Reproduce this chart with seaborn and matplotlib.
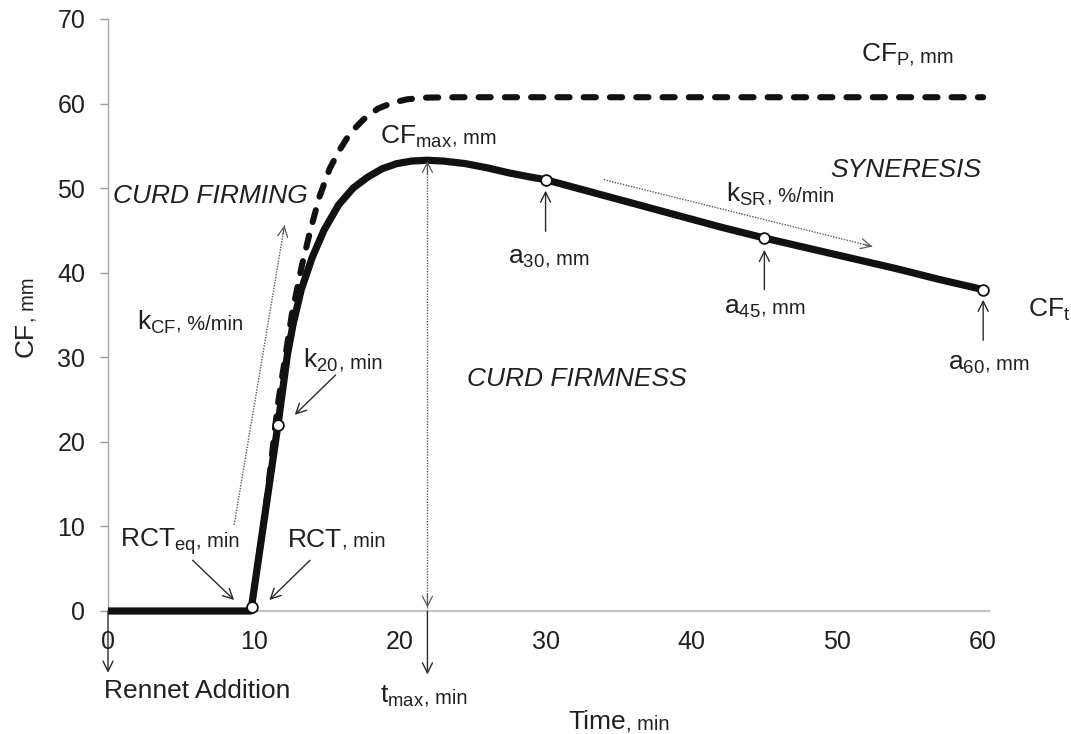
import matplotlib
matplotlib.use("Agg")
import matplotlib.pyplot as plt
import matplotlib.transforms as mtransforms
import seaborn as sns

# ---------------- data ----------------
cf_time = [0, 9.8, 11.65, 12.3, 12.7, 13.25, 14.0, 14.8, 15.8, 16.8, 17.8, 18.8,
           19.8, 20.8, 21.9, 23.0, 24.5, 26.0, 27.5, 29.0, 30, 33, 36, 39, 42, 45,
           48, 51, 54, 57, 60]
cf_value = [0, 0, 22.0, 30.3, 34.0, 38.0, 41.8, 45.0, 48.0, 50.0, 51.3, 52.3,
            52.9, 53.2, 53.3, 53.2, 52.9, 52.4, 51.8, 51.3, 51.0, 49.6, 48.2, 46.8,
            45.4, 44.1, 42.9, 41.7, 40.5, 39.2, 38.0]

cfp_time = [9.8, 10.8, 11.65, 12.6, 13.3, 13.9, 14.5, 15.2, 15.8, 16.6, 17.5, 18.5,
            19.5, 20.5, 21.7, 24, 60]
cfp_value = [0, 12.0, 24.5, 35.0, 40.9, 45.2, 49.0, 52.3, 54.3, 56.5, 58.1, 59.4,
             60.1, 60.5, 60.7, 60.75, 60.75]

marker_time = [9.85, 11.65, 30, 45, 60]
marker_value = [0.5, 22.0, 51.0, 44.1, 38.0]

x_ticks = [0, 10, 20, 30, 40, 50, 60]
y_ticks = [0, 10, 20, 30, 40, 50, 60, 70]

# ---------------- style ----------------
sns.set_theme(style="white")
plt.rcParams["font.family"] = ["Liberation Sans", "DejaVu Sans"]
plt.rcParams["mathtext.fontset"] = "custom"
plt.rcParams["mathtext.rm"] = "Liberation Sans"
plt.rcParams["mathtext.it"] = "Liberation Sans:italic"

TEXT = "#231f20"
LINE = "#111111"
ARROW = "#2a2a2a"
DOT = "#5a5a5a"
BIG = 19
SMALL = 14.5

fig = plt.figure(figsize=(10.71, 7.34), dpi=100)
ax = fig.add_axes([108 / 1071, 123 / 734, (989 - 108) / 1071, (611 - 19) / 734])
renderer = fig.canvas.get_renderer()

# ---------------- curves ----------------
sns.lineplot(x=cfp_time, y=cfp_value, ax=ax, color=LINE, lw=4.4,
             estimator=None, sort=False)
dashed = ax.lines[-1]
dashed.set_linestyle((0, (2.0, 2.3)))
dashed.set_dash_capstyle("round")
dashed.set_dash_joinstyle("round")
dashed.set_clip_on(False)

sns.lineplot(x=cf_time, y=cf_value, ax=ax, color=LINE, lw=5.2,
             estimator=None, sort=False)
solid = ax.lines[-1]
solid.set_clip_on(False)
solid.set_solid_joinstyle("round")
solid.set_solid_capstyle("butt")
solid.set_zorder(3)

sns.scatterplot(x=marker_time, y=marker_value, ax=ax, s=60, color="white",
                edgecolor=LINE, linewidth=1.3, zorder=5, clip_on=False)

# ---------------- axes ----------------
ax.set_xlim(0, 60.4)
ax.set_ylim(0, 70)
ax.set_xticks(x_ticks)
ax.set_yticks(y_ticks)
ax.set_xticklabels([str(v) for v in x_ticks])
ax.set_yticklabels([str(v) for v in y_ticks])
ax.tick_params(axis="x", length=0, pad=13.5, labelsize=18, labelcolor=TEXT)
ax.tick_params(axis="y", length=5.8, width=1.0, color="#9a9a9a", pad=10.5,
               labelsize=18, labelcolor=TEXT, left=True)
sns.despine(ax=ax)
ax.spines["left"].set_color("#a6a6a6")
ax.spines["left"].set_linewidth(1.0)
ax.spines["bottom"].set_color("#c4c4c4")
ax.spines["bottom"].set_linewidth(1.6)
ax.set_xlabel("")
ax.set_ylabel("")
ax.grid(False)


# ---------------- rich text helper ----------------
def rich(x, y, pieces, ha="left", rotation=0, style="normal"):
    arts, widths = [], []
    for s, size in pieces:
        t = ax.text(x, y, s, fontsize=size, rotation=rotation, rotation_mode="anchor",
                    ha="left", va="baseline", color=TEXT, style=style, clip_on=False)
        bb = t.get_window_extent(renderer=renderer)
        widths.append(bb.height if rotation == 90 else bb.width)
        arts.append(t)
    total = sum(widths)
    off = {"left": 0.0, "center": -total / 2, "right": -total}[ha]
    for t, w in zip(arts, widths):
        dx, dy = (0, off) if rotation == 90 else (off, 0)
        t.set_transform(mtransforms.offset_copy(ax.transData, fig=fig, x=dx, y=dy, units="dots"))
        off += w


def arrow(tail, tip, color=ARROW, lw=1.0):
    ax.annotate("", xy=tip, xytext=tail, annotation_clip=False,
                arrowprops=dict(arrowstyle="->,head_length=0.6,head_width=0.3",
                                color=color, lw=lw, shrinkA=0, shrinkB=0))


def dotted_arrow(tail, tip, both=False):
    ax.plot([tail[0], tip[0]], [tail[1], tip[1]], color=DOT, lw=1.0,
            linestyle=(0, (1, 1)), clip_on=False, zorder=2)
    for a, b in ([(tail, tip), (tip, tail)] if both else [(tail, tip)]):
        fx = a[0] + (b[0] - a[0]) * 0.97
        fy = a[1] + (b[1] - a[1]) * 0.97
        ax.annotate("", xy=b, xytext=(fx, fy), annotation_clip=False,
                    arrowprops=dict(arrowstyle="->,head_length=0.6,head_width=0.3",
                                    color=DOT, lw=0.9, shrinkA=0, shrinkB=0))


# ---------------- annotations ----------------
rich(51.6, 64.9, [(r"CF$_{\mathregular{P}}$", BIG), (", mm", SMALL)])
rich(18.65, 55.3, [(r"CF$_{\mathregular{max}}$", BIG), (", mm", SMALL)])
rich(59.9, 51.3, [("SYNERESIS", BIG)], ha="right", style="italic")
rich(0.35, 48.2, [("CURD FIRMING", BIG)], style="italic")
rich(42.4, 48.4, [(r"k$_{\mathregular{SR}}$", BIG), (", %/min", SMALL)])
rich(1.97, 33.3, [(r"k$_{\mathregular{CF}}$", BIG), (", %/min", SMALL)])
rich(13.4, 28.7, [(r"k$_{\mathregular{20}}$", BIG), (", min", SMALL)])
rich(24.6, 26.6, [("CURD FIRMNESS", BIG)], style="italic")
rich(30.2, 41.0, [(r"a$_{\mathregular{30}}$", BIG), (", mm", SMALL)], ha="center")
rich(45.05, 35.2, [(r"a$_{\mathregular{45}}$", BIG), (", mm", SMALL)], ha="center")
rich(60.4, 28.5, [(r"a$_{\mathregular{60}}$", BIG), (", mm", SMALL)], ha="center")
rich(63.1, 34.8, [(r"CF$_{\mathregular{t}}$", BIG)])
rich(0.82, 7.6, [(r"RCT$_{\mathregular{eq}}$", BIG), (", min", SMALL)])
rich(12.35, 7.6, [("RCT", BIG), (", min", SMALL)])
rich(-0.27, -10.3, [("Rennet Addition", BIG)])
rich(18.65, -10.9, [(r"t$_{\mathregular{max}}$", BIG), (", min", SMALL)])
rich(31.55, -14.0, [("Time", BIG), (", min", SMALL)])
rich(-5.14, 30.0, [("CF", BIG), (", mm", SMALL)], rotation=90)

arrow((5.8, 6.0), (8.65, 1.3))
arrow((13.85, 6.0), (11.06, 1.3))
arrow((15.6, 27.9), (12.8, 23.2))
arrow((30, 44.9), (30, 49.7))
arrow((45, 38.0), (45, 42.7))
arrow((60, 32.0), (60, 36.8))
arrow((0, 0), (0, -7.3))
arrow((21.9, 0), (21.9, -7.5))

dotted_arrow((8.65, 10.2), (12.1, 45.6))
dotted_arrow((34.0, 51.0), (52.4, 43.1))
dotted_arrow((21.9, 0.4), (21.9, 53.2), both=True)

fig.savefig("out.png", dpi=100)
